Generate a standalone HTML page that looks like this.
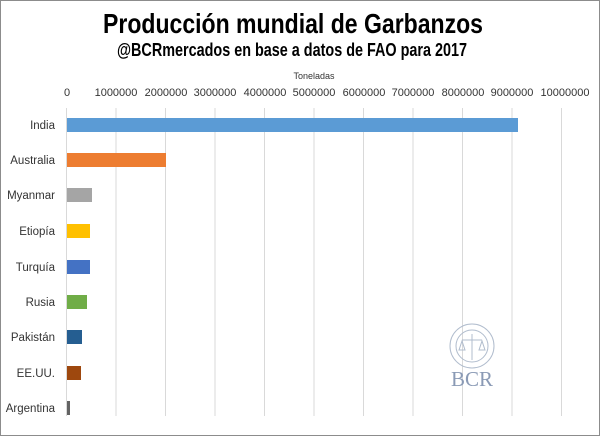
<!DOCTYPE html>
<html><head><meta charset="utf-8"><style>body{margin:0;background:#fff}</style></head><body>
<svg width="600" height="436" xmlns="http://www.w3.org/2000/svg" font-family="Liberation Sans, sans-serif">
<rect x="0.5" y="0.5" width="599" height="435" fill="#fff" stroke="#8c8c8c" stroke-width="1"/>
<text x="293" y="33" text-anchor="middle" font-family="Liberation Sans Narrow, Liberation Sans, sans-serif" font-weight="bold" font-size="28" textLength="380" lengthAdjust="spacingAndGlyphs">Producción mundial de Garbanzos</text>
<text x="292" y="56" text-anchor="middle" font-family="Liberation Sans Narrow, Liberation Sans, sans-serif" font-weight="bold" font-size="18" textLength="350" lengthAdjust="spacingAndGlyphs">@BCRmercados en base a datos de FAO para 2017</text>
<text x="314" y="79" text-anchor="middle" font-size="9" fill="#333">Toneladas</text>
<g stroke="#d9d9d9" stroke-width="1">
<line x1="66.5" y1="108" x2="66.5" y2="416"/><line x1="116" y1="108" x2="116" y2="416"/><line x1="165.5" y1="108" x2="165.5" y2="416"/><line x1="215" y1="108" x2="215" y2="416"/><line x1="264.5" y1="108" x2="264.5" y2="416"/><line x1="314" y1="108" x2="314" y2="416"/><line x1="363.5" y1="108" x2="363.5" y2="416"/><line x1="413" y1="108" x2="413" y2="416"/><line x1="462.5" y1="108" x2="462.5" y2="416"/><line x1="512" y1="108" x2="512" y2="416"/><line x1="561.5" y1="108" x2="561.5" y2="416"/>
</g>
<g font-size="11" fill="#333" text-anchor="middle">
<text x="67" y="96">0</text><text x="116" y="96">1000000</text><text x="166" y="96">2000000</text><text x="215" y="96">3000000</text><text x="265" y="96">4000000</text><text x="314" y="96">5000000</text><text x="364" y="96">6000000</text><text x="413" y="96">7000000</text><text x="463" y="96">8000000</text><text x="512" y="96">9000000</text><text x="565" y="96">10000000</text>
</g>
<rect x="67" y="118" width="451" height="14" fill="#5b9bd5"/>
<rect x="67" y="153" width="99" height="14" fill="#ed7d31"/>
<rect x="67" y="188" width="25" height="14" fill="#a5a5a5"/>
<rect x="67" y="224" width="23" height="14" fill="#ffc000"/>
<rect x="67" y="260" width="23" height="14" fill="#4472c4"/>
<rect x="67" y="295" width="20" height="14" fill="#70ad47"/>
<rect x="67" y="330" width="15" height="14" fill="#255e91"/>
<rect x="67" y="366" width="14" height="14" fill="#9e480e"/>
<rect x="67" y="401" width="3" height="14" fill="#636363"/>
<g font-size="11.5" fill="#333" text-anchor="end">
<text x="55" y="129">India</text><text x="55" y="164">Australia</text><text x="55" y="199">Myanmar</text><text x="55" y="235">Etiopía</text><text x="55" y="271">Turquía</text><text x="55" y="306">Rusia</text><text x="55" y="341">Pakistán</text><text x="55" y="377">EE.UU.</text><text x="55" y="412">Argentina</text>
</g>
<g fill="none" stroke="#b0bccd" stroke-width="1">
<circle cx="472" cy="346" r="22"/><circle cx="472" cy="346" r="16"/>
<line x1="472" y1="334" x2="472" y2="360"/><line x1="462" y1="340" x2="482" y2="340"/>
<path d="M459 350 l3-9 l3 9 z M479 350 l3-9 l3 9 z"/>
</g>
<text x="472" y="386" text-anchor="middle" font-family="Liberation Serif, serif" font-size="21" fill="#8a9ab5">BCR</text>
</svg>
</body></html>
